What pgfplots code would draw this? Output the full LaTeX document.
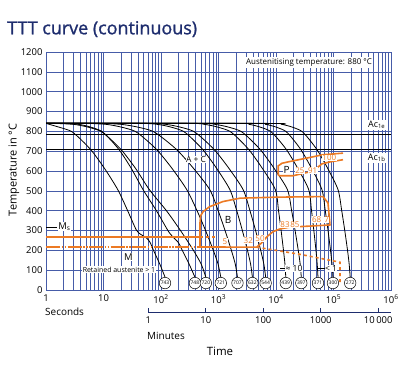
\documentclass[border=0pt]{standalone}
\usepackage{fontspec}
\setmainfont{Open Sans}
\usepackage{pgfplots}
\pgfplotsset{compat=1.18}
\definecolor{gridblue}{RGB}{70,92,168}
\definecolor{titleblue}{RGB}{30,45,110}
\definecolor{ttorange}{RGB}{236,122,36}
\tikzset{
 cc/.style={black, line width=0.8bp, smooth, tension=0.45},
 ob/.style={ttorange, line width=1.6bp},
 hv/.style={circle, draw=black, line width=0.5bp, fill=white, minimum size=11.5bp, inner sep=0pt, font=\fontsize{5}{5}\selectfont},
 onum/.style={text=ttorange, fill=white, inner sep=0.4bp, font=\fontsize{8}{9}\selectfont},
}
\begin{document}
\begin{tikzpicture}[x=1bp,y=1bp]
\begin{axis}[
 at={(46bp,80bp)}, anchor=south west,
 scale only axis, width=345bp, height=238bp,
 xmode=log, log basis x=10, xmin=1, xmax=1e6, ymin=0, ymax=1200,
 ytick={0,100,...,1200},
 xtick={1,10,100,1000,10000,100000,1000000},
 minor xtick={2,3,4,5,6,7,8,9,20,30,40,50,60,70,80,90,200,300,400,500,600,700,800,900,2000,3000,4000,5000,6000,7000,8000,9000,20000,30000,40000,50000,60000,70000,80000,90000,200000,300000,400000,500000,600000,700000,800000,900000},
 xticklabels={1,10,10\textsuperscript{2},10\textsuperscript{3},10\textsuperscript{4},10\textsuperscript{5},10\textsuperscript{6}},
 grid=both,
 major grid style={gridblue, line width=0.6bp},
 minor grid style={gridblue, line width=0.6bp},
 axis line style={gridblue, line width=0.8bp},
 tick style={draw=none},
 ticklabel style={font=\fontsize{9.5}{11}\selectfont},
 /pgf/number format/assume math mode=true,
 /pgf/number format/1000 sep={},
 ylabel={Temperature in °C},
 ylabel style={at={(axis description cs:-0.093,0.505)}, anchor=center, font=\fontsize{11}{13}\selectfont},
 xticklabel style={yshift=-1bp},
]
% Ac lines
\addplot[black, line width=0.8bp] coordinates {(1,785) (1e6,785)};
\addplot[black, line width=0.8bp] coordinates {(1,710) (1e6,710)};
% cooling curves
\addplot[cc] coordinates {(1,840) (1.641,822) (2.754,800) (4.169,755) (6.310,700) (10.59,610) (17.78,505) (26.30,400) (37.15,303) (44.67,280) (56.23,262) (64.57,240) (74.13,200) (95.5,130) (117.5,65)};
\addplot[cc] coordinates {(1,840) (1.950,840) (3.715,835) (5.888,822) (9.333,800) (13.49,755) (19.50,700) (30.90,610) (48.98,505) (83.18,400) (131.8,300) (158.5,270) (199.5,240) (234.4,200) (309.0,130) (389.0,65)};
\addplot[cc] coordinates {(1,840) (1.429,840) (3.048,835) (5.236,822) (8.995,800) (13.87,755) (21.38,700) (36.73,610) (63.10,505) (124.2,400) (218.3,300) (366.4,200) (501.2,130) (602.6,65)};
\addplot[cc] coordinates {(1,840) (5.012,840) (11.22,835) (19.95,822) (35.48,800) (56.23,755) (89.13,700) (158.5,610) (281.8,505) (423.6,400) (595.7,300) (812.8,200) (984.0,130) (1096,65)};
\addplot[cc] coordinates {(1,840) (8.414,840) (20.42,835) (38.46,822) (72.44,800) (120.2,755) (199.5,700) (375.8,610) (707.9,505) (986.3,400) (1300,300) (1675,200) (1959,130) (2138,65)};
\addplot[cc] coordinates {(1,840) (42.17,840) (87.10,835) (146.2,822) (245.5,800) (371.5,755) (562.3,700) (944.1,610) (1585,505) (2075,400) (2600,300) (3192,200) (3622,130) (3890,65)};
\addplot[cc] coordinates {(1,840) (56.23,840) (121.9,835) (211.8,822) (368.1,800) (572.8,755) (891.3,700) (1549,610) (2692,505) (3524,400) (4416,300) (5420,200) (6152,130) (6607,65)};
\addplot[cc] coordinates {(1,840) (281.8,840) (572.8,835) (950.6,822) (1578,800) (2366,755) (3548,700) (5888,610) (9772,505) (11070,400) (12270,300) (13490,200) (14320,130) (14790,65)};
\addplot[cc] coordinates {(1,840) (421.7,840) (871.0,835) (1462,822) (2455,800) (3715,755) (5623,700) (9441,610) (15850,505) (18710,400) (21480,300) (24380,200) (26360,130) (27540,65)};
\addplot[cc] coordinates {(1,840) (1884,840) (3420,835) (5236,822) (8017,800) (11270,755) (15850,700) (24270,610) (37150,505) (41500,400) (45500,300) (49550,200) (52120,130) (53700,65)};
\addplot[cc] coordinates {(1,840) (3758,840) (6607,835) (9886,822) (14790,800) (20420,755) (28180,700) (42170,610) (63100,505) (71940,400) (80350,300) (88720,200) (94410,130) (97720,65)};
\addplot[cc] coordinates {(1,840) (7161,840) (12590,835) (18840,822) (28180,800) (38900,755) (53700,700) (80350,610) (120200,505) (139000,400) (157000,300) (175400,200) (187500,130) (195000,65)};
% orange transformation lines
\addplot[ob] coordinates {(1,266) (477,266)};
\addplot[ob, dashed] coordinates {(477,266) (869,266)};
\addplot[ob, dash pattern=on 14bp off 1.5bp on 1.5bp off 1.5bp on 1.5bp off 1.5bp] coordinates {(1,217) (477,217)};
\addplot[ob] coordinates {(477,217) (477,340) (490,375) (540,395) (700,420) (1197,446) (2366,463) (10000,468) (65600,471) (80200,439) (86900,328) (43970,323) (17500,317) (11740,308) (8870,294) (6970,269) (5710,239) (4616,216) (477,217)};
\addplot[ob] coordinates {(146300,690) (65600,682) (34200,665) (17500,648) (12710,639) (10960,626) (10960,581) (11500,576) (19770,576) (39000,596) (51600,616) (63100,636) (86900,646) (146300,657)};
\addplot[ob, dashed] coordinates {(4616,216) (26100,180) (120000,142) (129700,140) (129700,25)};
% annotations
\node[fill=white, inner sep=1.5bp, font=\fontsize{8}{9}\selectfont] at (axis cs:37500,1148) {Austenitising temperature: 880 °C};
\node[fill=white, inner sep=1bp, font=\fontsize{9}{10}\selectfont] at (axis cs:564800,833) {Ac\textsubscript{1e}};
\node[fill=white, inner sep=1bp, font=\fontsize{9}{10}\selectfont] at (axis cs:564800,667) {Ac\textsubscript{1b}};
\node[fill=white, inner sep=0.5bp, font=\fontsize{8.5}{9}\selectfont] at (axis cs:406,657) {A + C};
\node[font=\fontsize{10}{11}\selectfont] at (axis cs:1462,354) {B};
\node[fill=white, inner sep=0.5bp, font=\fontsize{10}{11}\selectfont] at (axis cs:15350,606) {P};
\node[fill=white, inner sep=0.5bp, font=\fontsize{9.5}{11}\selectfont] at (axis cs:27,168) {M};
\draw[black, line width=0.6bp] (axis cs:1,318) -- (axis cs:1.55,318);
\node[fill=white, inner sep=0.5bp, font=\fontsize{9.5}{11}\selectfont] at (axis cs:2.1,320) {M\textsubscript{s}};
\node[fill=white, inner sep=0.8bp, font=\fontsize{7}{8}\selectfont] at (axis cs:18.6,101) {Retained austenite > 1};
\draw[black, line width=0.6bp] (axis cs:11750,110) -- (axis cs:14350,110);
\node[fill=white, inner sep=0.5bp, font=\fontsize{8.5}{9}\selectfont] at (axis cs:20560,110) {≈ 10};
\draw[black, line width=0.6bp] (axis cs:53700,110) -- (axis cs:71100,110);
\node[fill=white, inner sep=0.5bp, font=\fontsize{8.5}{9}\selectfont] at (axis cs:90570,110) {< 1};
\node[onum] at (axis cs:1297,244) {5};
\node[onum] at (axis cs:3297,249) {32};
\node[onum] at (axis cs:5272,261) {50};
\node[onum] at (axis cs:14350,328) {83};
\node[onum] at (axis cs:21380,328) {85};
\node[onum] at (axis cs:51050,354) {68};
\node[onum] at (axis cs:76200,354) {7};
\node[onum] at (axis cs:26120,604) {25};
\node[onum] at (axis cs:43500,604) {91};
\node[onum] at (axis cs:84500,665) {100};
\node[hv] at (axis cs:117.5,35) {743};
\node[hv] at (axis cs:389,35) {748};
\node[hv] at (axis cs:602.6,35) {720};
\node[hv] at (axis cs:1096,35) {721};
\node[hv] at (axis cs:2138,35) {707};
\node[hv] at (axis cs:3890,35) {632};
\node[hv] at (axis cs:6607,35) {544};
\node[hv] at (axis cs:14790,35) {439};
\node[hv] at (axis cs:27540,35) {397};
\node[hv] at (axis cs:53700,35) {371};
\node[hv] at (axis cs:97720,35) {300};
\node[hv] at (axis cs:195000,35) {272};
\end{axis}
% minutes axis
\begin{axis}[
 at={(148.3bp,58bp)}, anchor=south west,
 scale only axis, width=242.7bp, height=10bp,
 xmode=log, log basis x=10, xmin=1, xmax=16666.67, ymin=0, ymax=1,
 hide y axis, axis x line=bottom,
 axis line style={-, titleblue, line width=0.9bp},
 xtick={1,10,100,1000,10000},
 xticklabels={1,10,100,1000,10\,000},
 minor xtick={},
 tick align=inside, major tick length=4bp,
 tick style={titleblue, line width=0.9bp},
 ticklabel style={font=\fontsize{9.5}{11}\selectfont},
 xticklabel style={yshift=-1bp},
]
\addplot[draw=none] coordinates {(1,0) (10000,0)};
\end{axis}
\node[anchor=west, inner sep=0, font=\fontsize{10}{12}\selectfont] at (45bp,58bp) {Seconds};
\node[anchor=west, inner sep=0, font=\fontsize{10}{12}\selectfont] at (147bp,34bp) {Minutes};
\node[inner sep=0, font=\fontsize{11.5}{13}\selectfont] at (220bp,18.3bp) {Time};
\node[anchor=base west, inner sep=0, text=titleblue, font=\fontsize{18}{20}\selectfont\addfontfeature{FakeBold=1.2}] at (7bp,335.7bp) {TTT curve (continuous)};
\pgfresetboundingbox
\useasboundingbox (0,0) rectangle (419bp,370bp);
\end{tikzpicture}
\end{document}
